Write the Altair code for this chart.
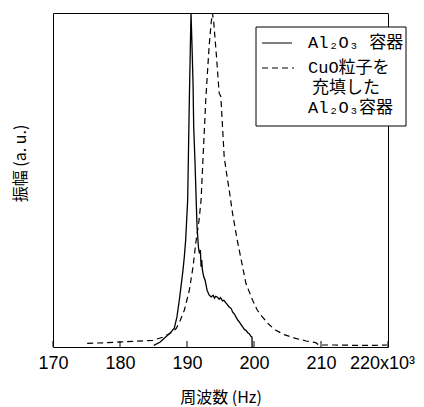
import altair as alt
import pandas as pd

# Al2O3 container (solid)
f_al = [185.05, 186.0, 186.6, 187.4, 188.1, 188.5, 188.85, 189.1, 189.4, 189.6, 189.8,
        190.1, 190.35, 190.5, 190.6, 190.75, 190.9, 191.0, 191.2, 191.37, 191.5, 191.7,
        191.85, 192.0, 192.1, 192.2, 192.3, 192.5, 192.7, 192.9, 193.0, 193.3, 193.6,
        193.9, 194.1, 194.3, 194.5, 194.8, 195.0, 195.3, 195.5, 195.9, 196.3, 196.6,
        196.8, 197.1, 197.3, 197.6, 197.8, 198.1, 198.3, 198.6, 198.8, 199.1, 199.3,
        199.5, 199.7, 199.72]
a_al = [0.005, 0.015, 0.026, 0.04, 0.056, 0.09, 0.14, 0.18, 0.23, 0.27, 0.32,
        0.44, 0.74, 0.9, 1.0, 0.9, 0.79, 0.66, 0.55, 0.44, 0.36, 0.30,
        0.28, 0.29, 0.24, 0.26, 0.23, 0.21, 0.20, 0.18, 0.17, 0.156, 0.15,
        0.155, 0.146, 0.152, 0.15, 0.143, 0.148, 0.138, 0.14, 0.13, 0.12, 0.115,
        0.105, 0.098, 0.09, 0.08, 0.075, 0.066, 0.06, 0.052, 0.05, 0.042, 0.04,
        0.033, 0.03, 0.0]

# CuO-filled Al2O3 container (dashed)
f_cu = [175.1, 178.0, 181.0, 184.9, 186.5, 187.9, 188.4, 189.0, 189.6, 190.35, 190.9,
        191.3, 191.8, 192.1, 192.8, 193.3, 193.6, 193.8, 194.0, 194.4, 194.8, 195.05,
        195.55, 195.9, 196.3, 196.8, 197.5, 198.0, 198.8, 199.8, 200.5, 201.25, 202.2,
        203.2, 204.5, 206.2, 207.8, 209.2, 209.7, 212.0, 215.0, 218.0, 219.9]
a_cu = [0.011, 0.013, 0.016, 0.02, 0.03, 0.046, 0.056, 0.08, 0.11, 0.17, 0.24,
        0.31, 0.38, 0.44, 0.74, 0.9, 0.97, 1.0, 0.97, 0.87, 0.76, 0.75,
        0.57, 0.52, 0.47, 0.40, 0.32, 0.27, 0.19, 0.14, 0.11, 0.09, 0.068,
        0.051, 0.037, 0.026, 0.018, 0.013, 0.006, 0.006, 0.005, 0.005, 0.006]

x_ticks = [170, 180, 190, 200, 210, 220]

legend_rows = ["Al₂O₃ 容器", "CuO粒子を", "充填した", "Al₂O₃容器"]
legend_row_y = [30, 55, 75, 95]
legend_row_x = [255, 255, 259, 255]

W, H = 335, 334
CJK = "Noto Sans CJK JP"
LEG_FONT = "Liberation Mono, Noto Sans CJK JP"

df_al = pd.DataFrame({"f": f_al, "a": a_al})
df_cu = pd.DataFrame({"f": f_cu, "a": a_cu})
df_t = pd.DataFrame({"f": x_ticks})
df_leg = pd.DataFrame({"t": legend_rows, "y": legend_row_y, "x": legend_row_x})

xs = alt.Scale(domain=[170, 220], nice=False)
ys = alt.Scale(domain=[0, 1], nice=False)

x_axis = alt.Axis(values=x_ticks, ticks=False, grid=False, domain=False,
                  labelFont="Liberation Sans", labelFontSize=18, labelColor="black",
                  labelPadding=7, labelFlush=False,
                  labelOffset={"condition": {"test": "datum.value == 220", "value": -6}, "value": 0},
                  labelExpr="datum.value == 220 ? '220x10³' : datum.label",
                  title="周波数 (Hz)", titleFont=CJK, titleFontSize=16,
                  titleFontWeight="normal", titleColor="black",
                  titleY=50, titleBaseline="middle")
y_axis = alt.Axis(labels=False, ticks=False, grid=False, domain=False,
                  title="振幅 (a. u.)", titleFont=CJK, titleFontSize=16,
                  titleFontWeight="normal", titleColor="black",
                  titleX=-33, titleY=150, titleBaseline="middle", titleAlign="center")

solid = alt.Chart(df_al).mark_line(color="black", strokeWidth=1.3).encode(
    x=alt.X("f:Q", scale=xs, axis=x_axis),
    y=alt.Y("a:Q", scale=ys, axis=y_axis),
    order="f:Q",
)
dashed = alt.Chart(df_cu).mark_line(color="black", strokeWidth=1.2, strokeDash=[6, 4]).encode(
    x=alt.X("f:Q", scale=xs),
    y=alt.Y("a:Q", scale=ys),
    order="f:Q",
)
ticks = alt.Chart(df_t).mark_rule(color="black", strokeWidth=1).encode(
    x=alt.X("f:Q", scale=xs),
    y=alt.value(H),
    y2=alt.value(H - 6),
)

box = alt.Chart(df_t.head(1)).mark_rect(fill="white", stroke="black", strokeWidth=1).encode(
    x=alt.value(203), x2=alt.value(353), y=alt.value(14), y2=alt.value(113)
)
leg_solid = alt.Chart(df_t.head(1)).mark_rule(color="black", strokeWidth=1).encode(
    x=alt.value(209), x2=alt.value(239), y=alt.value(30)
)
leg_dash = alt.Chart(df_t.head(1)).mark_rule(color="black", strokeWidth=1, strokeDash=[6, 4]).encode(
    x=alt.value(209), x2=alt.value(241), y=alt.value(55)
)
leg_text = alt.Chart(df_leg).mark_text(align="left", baseline="middle", font=LEG_FONT,
                                       fontSize=17, color="black").encode(
    x=alt.X("x:Q", scale=None), y=alt.Y("y:Q", scale=None), text="t:N"
)

chart = alt.layer(solid, dashed, ticks, box, leg_solid, leg_dash, leg_text).properties(
    width=W, height=H,
    autosize=alt.AutoSizeParams(type="none"),
    padding={"left": 45, "top": 5, "right": 28, "bottom": 60},
).configure_view(stroke="black", strokeWidth=1)

chart.save("out.html", embed_options={"renderer": "svg", "actions": False})
